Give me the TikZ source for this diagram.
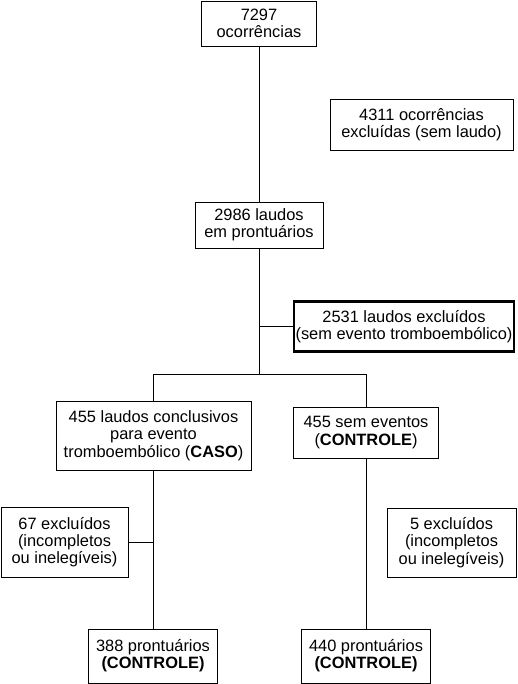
\documentclass[tikz,border=0pt]{standalone}
\usepackage{fontspec}
\setmainfont{Liberation Sans}
\begin{document}
\begin{tikzpicture}[x=1pt,y=-1pt,
  box/.style={draw, line width=0.9pt, align=center, inner sep=0pt,
    font=\fontsize{16.4}{17.3}\selectfont},
  thickbox/.style={box, line width=2.4pt},
  conn/.style={line width=0.9pt}]
\useasboundingbox (0,0) rectangle (517,684);
\node[box, minimum width=115, minimum height=45] (a) at (259,23.5) {7297\\ocorrências};
\node[box, minimum width=183, minimum height=51] (b) at (421.5,124.5) {4311 ocorrências\\excluídas (sem laudo)};
\node[box, minimum width=128, minimum height=46] (c) at (259,225) {2986 laudos\\em prontuários};
\node[thickbox, minimum width=220, minimum height=50] (d) at (404,326.5) {2531 laudos excluídos\\(sem evento tromboembólico)};
\node[box, minimum width=195, minimum height=69] (caso) at (153.5,435.5) {455 laudos conclusivos\\para evento\\tromboembólico (\textbf{CASO})};
\node[box, minimum width=145, minimum height=51] (ctrl) at (366,432.5) {455 sem eventos\\(\textbf{CONTROLE})};
\node[box, minimum width=127, minimum height=70] (e67) at (64.5,542) {67 excluídos\\(incompletos\\ou inelegíveis)};
\node[box, minimum width=129, minimum height=69] (e5) at (451.5,542.5) {5 excluídos\\(incompletos\\ou inelegíveis)};
\node[box, minimum width=129, minimum height=54] (p388) at (153,656) {388 prontuários\\\textbf{(CONTROLE)}};
\node[box, minimum width=129, minimum height=54] (p440) at (366,656) {440 prontuários\\\textbf{(CONTROLE)}};
\coordinate (split) at (259,374);
\coordinate (sl) at (153,374);
\coordinate (sr) at (366,374);
\draw[conn] (a.south) -- (c.north);
\draw[conn] (c.south) -- (split);
\draw[conn] (c.south |- d.west) -- (d.west);
\draw[conn] (sl) -- (sr);
\draw[conn] (sl) -- (caso.north -| sl);
\draw[conn] (sr) -- (ctrl.north);
\draw[conn] (caso.south -| p388.north) -- (p388.north);
\draw[conn] (e67.east) -- (e67.east -| p388.north);
\draw[conn] (ctrl.south) -- (p440.north);
\end{tikzpicture}
\end{document}
